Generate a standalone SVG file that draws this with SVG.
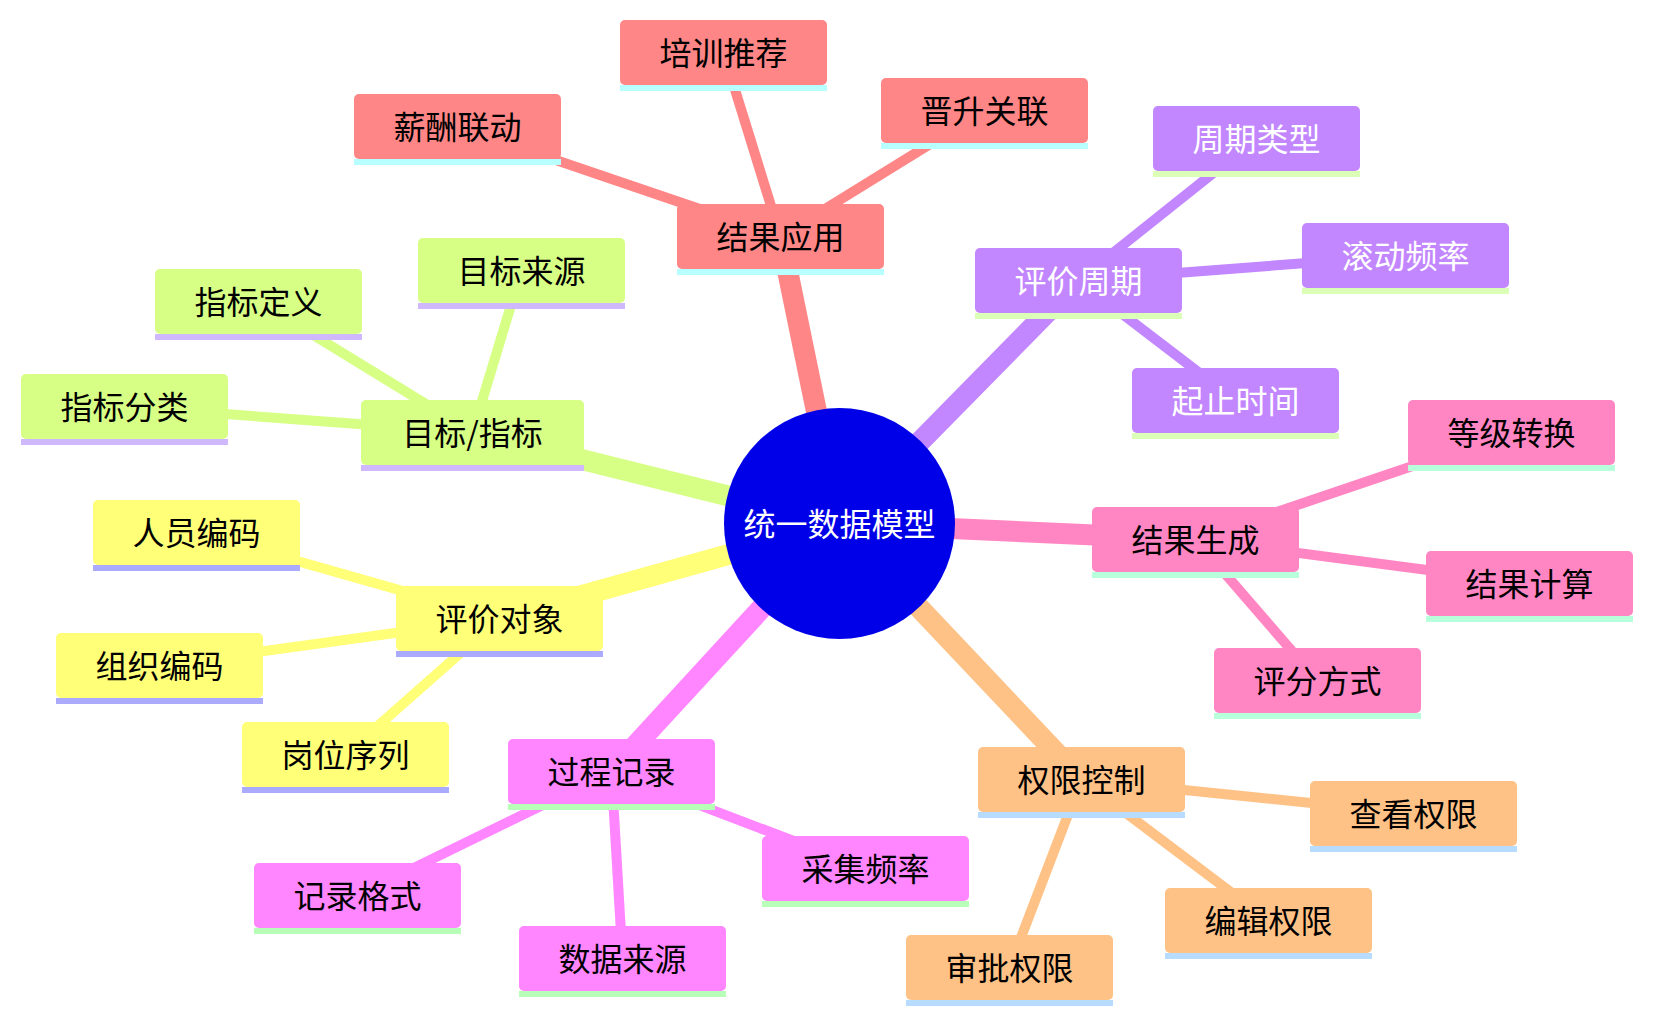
<svg xmlns="http://www.w3.org/2000/svg" width="1653" height="1023" viewBox="0 0 1653 1023">
<style>
text{font-family:"Noto Sans CJK SC","Noto Sans",sans-serif;font-size:32px;text-anchor:middle;dominant-baseline:central;fill:#000;transform:translateY(-2px)}
.main{stroke-width:21;fill:none}
.leaf{stroke-width:10;fill:none}
.red .box{fill:#FF8686}.red .ul{fill:#B8FFFF}.e-red{stroke:#FF8686}
.purple .box{fill:#C286FF}.purple .ul{fill:#DCFFB8}.purple text{fill:#fff}.e-purple{stroke:#C286FF}
.pink .box{fill:#FF86C2}.pink .ul{fill:#B8FFDC}.e-pink{stroke:#FF86C2}
.orange .box{fill:#FFC286}.orange .ul{fill:#B8DCFF}.e-orange{stroke:#FFC286}
.magenta .box{fill:#FF86FF}.magenta .ul{fill:#B8FFB8}.e-magenta{stroke:#FF86FF}
.yellow .box{fill:#FFFF78}.yellow .ul{fill:#AAAAFF}.e-yellow{stroke:#FFFF78}
.green .box{fill:#D7FF86}.green .ul{fill:#D0B8FF}.e-green{stroke:#D7FF86}
</style>
<rect width="1653" height="1023" fill="#fff"/>
<g id="connectors">
<line class="main e-red" x1="839.5" y1="523.5" x2="780.5" y2="236.5"/>
<line class="main e-purple" x1="839.5" y1="523.5" x2="1078.5" y2="280.5"/>
<line class="main e-pink" x1="839.5" y1="523.5" x2="1195.5" y2="539.5"/>
<line class="main e-orange" x1="839.5" y1="523.5" x2="1081.5" y2="779.5"/>
<line class="main e-magenta" x1="839.5" y1="523.5" x2="611.5" y2="771.5"/>
<line class="main e-yellow" x1="839.5" y1="523.5" x2="499.5" y2="618.5"/>
<line class="main e-green" x1="839.5" y1="523.5" x2="472.5" y2="432.5"/>
<line class="leaf e-red" x1="780.5" y1="236.5" x2="723.5" y2="52.5"/>
<line class="leaf e-red" x1="780.5" y1="236.5" x2="457.5" y2="126.5"/>
<line class="leaf e-red" x1="780.5" y1="236.5" x2="984.5" y2="110.5"/>
<line class="leaf e-purple" x1="1078.5" y1="280.5" x2="1256.5" y2="138.5"/>
<line class="leaf e-purple" x1="1078.5" y1="280.5" x2="1405.5" y2="255.5"/>
<line class="leaf e-purple" x1="1078.5" y1="280.5" x2="1235.5" y2="400.5"/>
<line class="leaf e-pink" x1="1195.5" y1="539.5" x2="1511.5" y2="432.5"/>
<line class="leaf e-pink" x1="1195.5" y1="539.5" x2="1529.5" y2="583.5"/>
<line class="leaf e-pink" x1="1195.5" y1="539.5" x2="1317.5" y2="680.5"/>
<line class="leaf e-orange" x1="1081.5" y1="779.5" x2="1413.5" y2="813.5"/>
<line class="leaf e-orange" x1="1081.5" y1="779.5" x2="1268.5" y2="920.5"/>
<line class="leaf e-orange" x1="1081.5" y1="779.5" x2="1009.5" y2="967.5"/>
<line class="leaf e-magenta" x1="611.5" y1="771.5" x2="865.5" y2="868.5"/>
<line class="leaf e-magenta" x1="611.5" y1="771.5" x2="357.5" y2="895.5"/>
<line class="leaf e-magenta" x1="611.5" y1="771.5" x2="622.5" y2="958.5"/>
<line class="leaf e-yellow" x1="499.5" y1="618.5" x2="196.5" y2="532.5"/>
<line class="leaf e-yellow" x1="499.5" y1="618.5" x2="159.5" y2="665.5"/>
<line class="leaf e-yellow" x1="499.5" y1="618.5" x2="345.5" y2="754.5"/>
<line class="leaf e-green" x1="472.5" y1="432.5" x2="258.5" y2="301.5"/>
<line class="leaf e-green" x1="472.5" y1="432.5" x2="521.5" y2="270.5"/>
<line class="leaf e-green" x1="472.5" y1="432.5" x2="124.5" y2="406.5"/>
</g>
<g id="root">
<circle cx="839.5" cy="523.5" r="115.5" fill="#0000E8"/>
<text x="839.5" y="523.5" style="fill:#fff">统一数据模型</text>
</g>
<g id="n-jgyy" class="red"><rect class="box" x="677" y="204" width="207" height="65" rx="5"/><rect class="ul" x="677" y="269" width="207" height="6"/><text x="780.5" y="236.5">结果应用</text></g>
<g id="n-pxtj" class="red"><rect class="box" x="620" y="20" width="207" height="65" rx="5"/><rect class="ul" x="620" y="85" width="207" height="6"/><text x="723.5" y="52.5">培训推荐</text></g>
<g id="n-xcld" class="red"><rect class="box" x="354" y="94" width="207" height="65" rx="5"/><rect class="ul" x="354" y="159" width="207" height="6"/><text x="457.5" y="126.5">薪酬联动</text></g>
<g id="n-jsgl" class="red"><rect class="box" x="881" y="78" width="207" height="65" rx="5"/><rect class="ul" x="881" y="143" width="207" height="6"/><text x="984.5" y="110.5">晋升关联</text></g>
<g id="n-pjzq" class="purple"><rect class="box" x="975" y="248" width="207" height="65" rx="5"/><rect class="ul" x="975" y="313" width="207" height="6"/><text x="1078.5" y="280.5">评价周期</text></g>
<g id="n-zqlx" class="purple"><rect class="box" x="1153" y="106" width="207" height="65" rx="5"/><rect class="ul" x="1153" y="171" width="207" height="6"/><text x="1256.5" y="138.5">周期类型</text></g>
<g id="n-gdpl" class="purple"><rect class="box" x="1302" y="223" width="207" height="65" rx="5"/><rect class="ul" x="1302" y="288" width="207" height="6"/><text x="1405.5" y="255.5">滚动频率</text></g>
<g id="n-qzsj" class="purple"><rect class="box" x="1132" y="368" width="207" height="65" rx="5"/><rect class="ul" x="1132" y="433" width="207" height="6"/><text x="1235.5" y="400.5">起止时间</text></g>
<g id="n-jgsc" class="pink"><rect class="box" x="1092" y="507" width="207" height="65" rx="5"/><rect class="ul" x="1092" y="572" width="207" height="6"/><text x="1195.5" y="539.5">结果生成</text></g>
<g id="n-djzh" class="pink"><rect class="box" x="1408" y="400" width="207" height="65" rx="5"/><rect class="ul" x="1408" y="465" width="207" height="6"/><text x="1511.5" y="432.5">等级转换</text></g>
<g id="n-jgjs" class="pink"><rect class="box" x="1426" y="551" width="207" height="65" rx="5"/><rect class="ul" x="1426" y="616" width="207" height="6"/><text x="1529.5" y="583.5">结果计算</text></g>
<g id="n-pffs" class="pink"><rect class="box" x="1214" y="648" width="207" height="65" rx="5"/><rect class="ul" x="1214" y="713" width="207" height="6"/><text x="1317.5" y="680.5">评分方式</text></g>
<g id="n-qxkz" class="orange"><rect class="box" x="978" y="747" width="207" height="65" rx="5"/><rect class="ul" x="978" y="812" width="207" height="6"/><text x="1081.5" y="779.5">权限控制</text></g>
<g id="n-ckqx" class="orange"><rect class="box" x="1310" y="781" width="207" height="65" rx="5"/><rect class="ul" x="1310" y="846" width="207" height="6"/><text x="1413.5" y="813.5">查看权限</text></g>
<g id="n-bjqx" class="orange"><rect class="box" x="1165" y="888" width="207" height="65" rx="5"/><rect class="ul" x="1165" y="953" width="207" height="6"/><text x="1268.5" y="920.5">编辑权限</text></g>
<g id="n-spqx" class="orange"><rect class="box" x="906" y="935" width="207" height="65" rx="5"/><rect class="ul" x="906" y="1000" width="207" height="6"/><text x="1009.5" y="967.5">审批权限</text></g>
<g id="n-gcjl" class="magenta"><rect class="box" x="508" y="739" width="207" height="65" rx="5"/><rect class="ul" x="508" y="804" width="207" height="6"/><text x="611.5" y="771.5">过程记录</text></g>
<g id="n-cjpl" class="magenta"><rect class="box" x="762" y="836" width="207" height="65" rx="5"/><rect class="ul" x="762" y="901" width="207" height="6"/><text x="865.5" y="868.5">采集频率</text></g>
<g id="n-jlgs" class="magenta"><rect class="box" x="254" y="863" width="207" height="65" rx="5"/><rect class="ul" x="254" y="928" width="207" height="6"/><text x="357.5" y="895.5">记录格式</text></g>
<g id="n-sjly" class="magenta"><rect class="box" x="519" y="926" width="207" height="65" rx="5"/><rect class="ul" x="519" y="991" width="207" height="6"/><text x="622.5" y="958.5">数据来源</text></g>
<g id="n-pjdx" class="yellow"><rect class="box" x="396" y="586" width="207" height="65" rx="5"/><rect class="ul" x="396" y="651" width="207" height="6"/><text x="499.5" y="618.5">评价对象</text></g>
<g id="n-rybm" class="yellow"><rect class="box" x="93" y="500" width="207" height="65" rx="5"/><rect class="ul" x="93" y="565" width="207" height="6"/><text x="196.5" y="532.5">人员编码</text></g>
<g id="n-zzbm" class="yellow"><rect class="box" x="56" y="633" width="207" height="65" rx="5"/><rect class="ul" x="56" y="698" width="207" height="6"/><text x="159.5" y="665.5">组织编码</text></g>
<g id="n-gwxl" class="yellow"><rect class="box" x="242" y="722" width="207" height="65" rx="5"/><rect class="ul" x="242" y="787" width="207" height="6"/><text x="345.5" y="754.5">岗位序列</text></g>
<g id="n-mbzb" class="green"><rect class="box" x="361" y="400" width="223" height="65" rx="5"/><rect class="ul" x="361" y="465" width="223" height="6"/><text x="472.5" y="432.5">目标/指标</text></g>
<g id="n-zbdy" class="green"><rect class="box" x="155" y="269" width="207" height="65" rx="5"/><rect class="ul" x="155" y="334" width="207" height="6"/><text x="258.5" y="301.5">指标定义</text></g>
<g id="n-mbly" class="green"><rect class="box" x="418" y="238" width="207" height="65" rx="5"/><rect class="ul" x="418" y="303" width="207" height="6"/><text x="521.5" y="270.5">目标来源</text></g>
<g id="n-zbfl" class="green"><rect class="box" x="21" y="374" width="207" height="65" rx="5"/><rect class="ul" x="21" y="439" width="207" height="6"/><text x="124.5" y="406.5">指标分类</text></g>
</svg>
